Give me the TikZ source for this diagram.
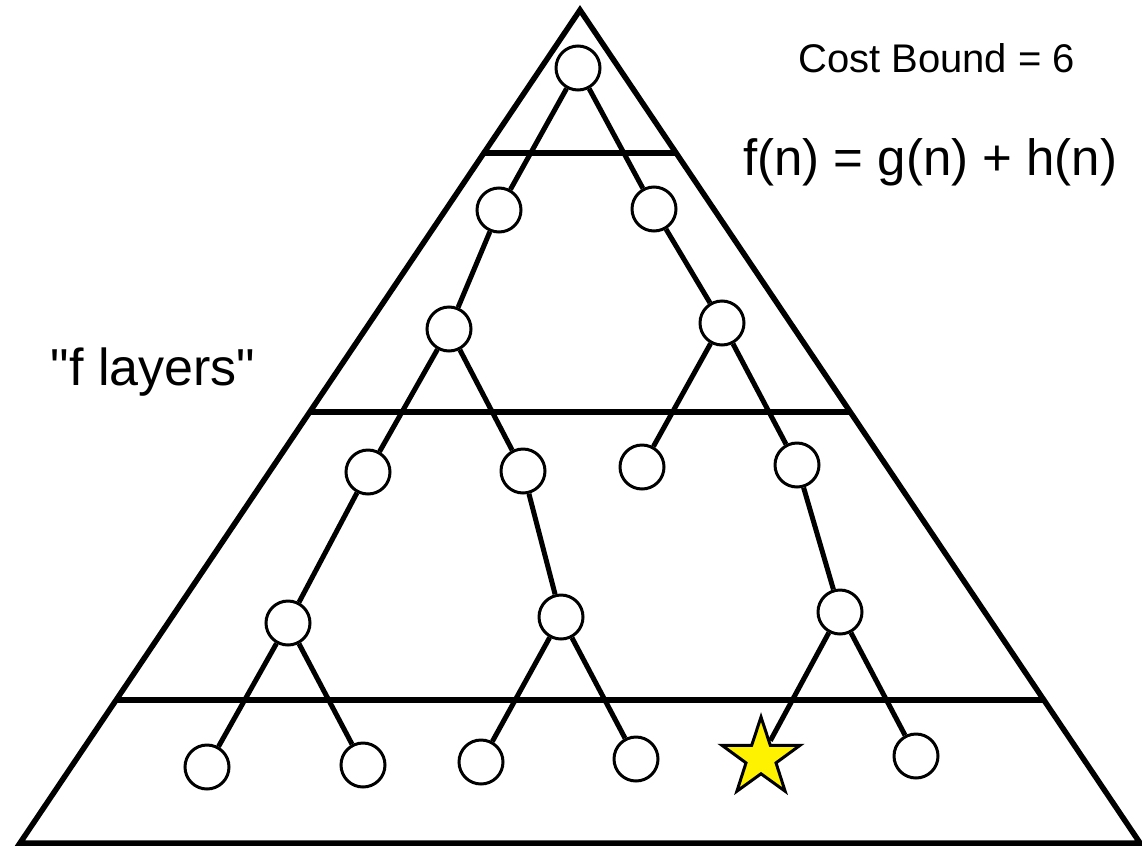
\documentclass[tikz,border=0pt]{standalone}
\usepackage{fontspec}
\setmainfont{Liberation Sans}
\newfontfamily\plainsans{Liberation Sans}
\usetikzlibrary{
    shapes.geometric,
    calc
}

\begin{document}
\begin{tikzpicture}[
    x=1pt, y=-1pt,
    side/.style={line width=5.5pt, line join=miter},
    layer/.style={line width=5.5pt},
    branch/.style={line width=5pt},
    state/.style={
        draw,
        circle,
        line width=3pt,
        fill=white,
        minimum size=44pt,
        inner sep=0pt
    },
    goal/.style={
        draw,
        star,
        star points=5,
        star point ratio=2.6,
        line width=3pt,
        fill=yellow,
        minimum size=82pt,
        inner sep=0pt
    },
    note/.style={inner sep=0pt, font=\fontsize{51}{60}\selectfont}
]

\useasboundingbox (0,0) rectangle (1142,846);

% ============================================================
% SEARCH SPACE AND f LAYERS
% ============================================================

\coordinate (apex) at (580,10);
\coordinate (bl) at (20,843);
\coordinate (br) at (1140,843);

\draw[side] (apex) -- (bl) -- (br) -- cycle;

\foreach \t in {0.1717,0.4826,0.8283} {
    \draw[layer] ($(apex)!\t!(bl)$) -- ($(apex)!\t!(br)$);
}

% ============================================================
% TREE
% ============================================================

\node[state] (root) at (578,68) {};

\node[state] (n1) at (499,210) {};
\node[state] (n2) at (654,209) {};

\node[state] (n3) at (449,329) {};
\node[state] (n4) at (722,323) {};

\node[state] (n5) at (368,472) {};
\node[state] (n6) at (523,471) {};
\node[state] (n7) at (642,467) {};
\node[state] (n8) at (797,465) {};

\node[state] (n9) at (288,623) {};
\node[state] (n10) at (561,617) {};
\node[state] (n11) at (840,612) {};

\node[state] (b1) at (207,767) {};
\node[state] (b2) at (363,765) {};
\node[state] (b3) at (481,762) {};
\node[state] (b4) at (636,759) {};
\node[goal] (star) at (761,758) {};
\node[state] (b6) at (916,756) {};

\foreach \a/\b in {root/n1, root/n2, n1/n3, n2/n4, n3/n5, n3/n6,
    n4/n7, n4/n8, n5/n9, n6/n10, n8/n11, n9/b1, n9/b2,
    n10/b3, n10/b4, n11/star, n11/b6} {
    \draw[branch] (\a) -- (\b);
}

% ============================================================
% TEXT
% ============================================================

\node[note, font=\fontsize{40}{48}\selectfont, anchor=base west] (bound) at (798,72) {Cost Bound = 6};
\node[note, anchor=base west] (fn) at (743,175) {f(n) = g(n) + h(n)};
\node[note, font=\plainsans\fontsize{52}{60}\selectfont, anchor=base] (layers) at (153,385) {"f layers"};

\end{tikzpicture}
\end{document}
